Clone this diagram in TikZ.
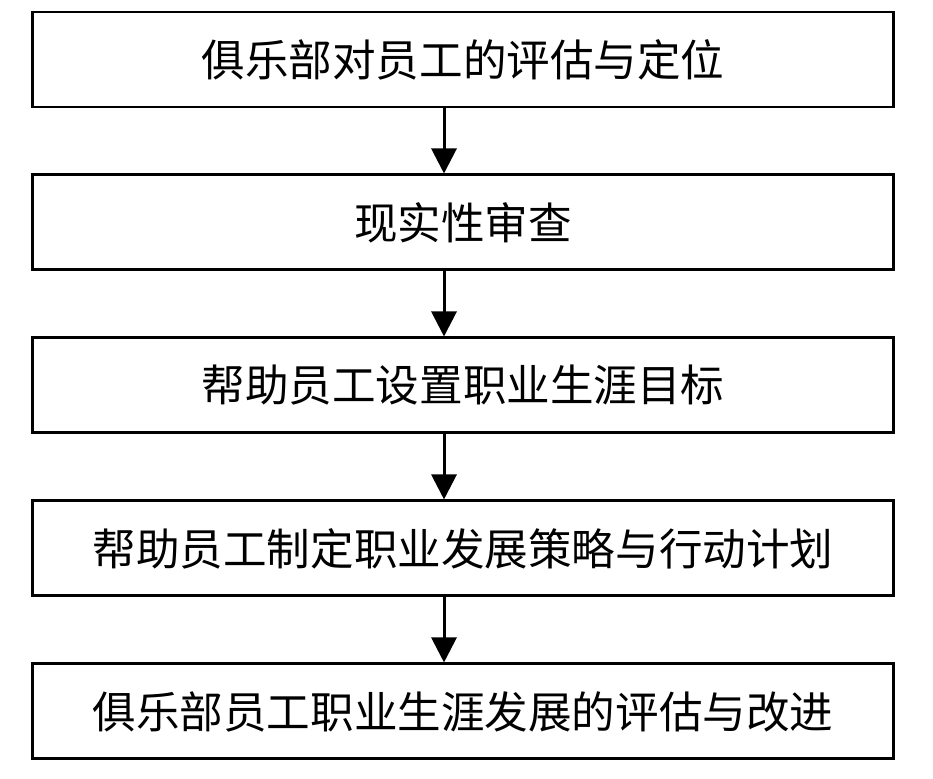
\documentclass[tikz,border=0pt]{standalone}
\usepackage{fontspec}
\setmainfont{Noto Sans CJK SC}
\usepackage{tikz}
\usetikzlibrary{arrows.meta, positioning}

\begin{document}
\begin{tikzpicture}[
  krok/.style={draw, line width=1.7pt, minimum width=17.22cm, minimum height=1.9cm,
    inner sep=0pt, font=\fontsize{24.8}{28}\selectfont},
  node distance=1.30cm
]
\useasboundingbox (0,0) rectangle (18.66,-15.56);
\node[krok](pinggu) at (9.26,-1.19){俱乐部对员工的评估与定位};
\node[krok, below=of pinggu](shencha){现实性审查};
\node[krok, below=of shencha](mubiao){帮助员工设置职业生涯目标};
\node[krok, below=of mubiao](celue){帮助员工制定职业发展策略与行动计划};
\node[krok, below=of celue](gaijin){俱乐部员工职业生涯发展的评估与改进};
\foreach \a/\b in {pinggu/shencha, shencha/mubiao, mubiao/celue, celue/gaijin}
  \path[draw, -{Triangle[length=0.5cm, width=0.5cm]}, line width=1.7pt](\a.south -| 8.88,0) -- (\b.north -| 8.88,0);
\end{tikzpicture}
\end{document}
